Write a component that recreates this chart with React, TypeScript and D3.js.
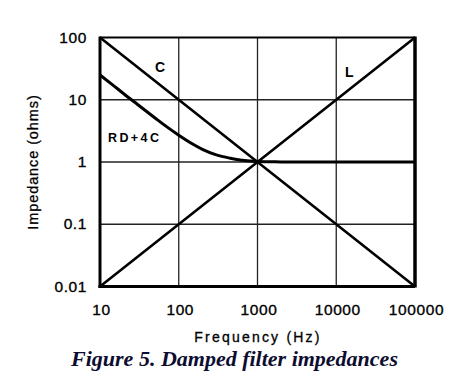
import React from "react";
import * as d3 from "d3";

const xTicks = [10, 100, 1000, 10000, 100000];
const xTickLabels = ["10", "100", "1000", "10000", "100000"];
const yTicks = [0.01, 0.1, 1, 10, 100];
const yTickLabels = ["0.01", "0.1", "1", "10", "100"];

const cFreq = [10, 100, 1000, 10000, 100000];
const cImp = [100, 10, 1, 0.1, 0.01];

const lFreq = [10, 100, 1000, 10000, 100000];
const lImp = [0.01, 0.1, 1, 10, 100];

const rdFreq = [10, 15, 20, 30, 50, 70, 100, 150, 200, 300, 450, 600, 800, 1000, 1500, 2000, 100000];
const rdImp = [25, 16.7, 12.5, 8.4, 5.1, 3.7, 2.7, 1.95, 1.6, 1.3, 1.15, 1.08, 1.04, 1.02, 1.01, 1.0, 1.0];

export default function App() {
  const W = 463, H = 380;
  const x0 = 100, x1 = 415, y0 = 37.5, y1 = 286.5;
  const x = d3.scaleLog().domain([10, 100000]).range([x0, x1]);
  const y = d3.scaleLog().domain([0.01, 100]).range([y1, y0]);

  const line = d3.line<[number, number]>()
    .x(d => x(d[0]))
    .y(d => y(d[1]))
    .curve(d3.curveMonotoneX);

  const cPath = line(cFreq.map((f, i) => [f, cImp[i]]))!;
  const lPath = line(lFreq.map((f, i) => [f, lImp[i]]))!;
  const rdPath = line(rdFreq.map((f, i) => [f, rdImp[i]]))!;

  const sans = "Arial, 'Liberation Sans', Helvetica, sans-serif";

  return (
    <svg width={W} height={H} style={{ position: "absolute", left: 0, top: 0 }}>
      <rect width={W} height={H} fill="#fff" />
      {/* grid */}
      {xTicks.slice(1, -1).map(t => (
        <line key={"gx" + t} x1={x(t)} x2={x(t)} y1={y0} y2={y1} stroke="#222" strokeWidth={1.3} />
      ))}
      {yTicks.slice(1, -1).map(t => (
        <line key={"gy" + t} x1={x0} x2={x1} y1={y(t)} y2={y(t)} stroke="#222" strokeWidth={1.3} />
      ))}
      {/* curves */}
      <g fill="none" stroke="#000" strokeWidth={2.6} strokeLinejoin="round">
        <path d={cPath} />
        <path d={lPath} />
        <path d={rdPath} strokeWidth={3} />
      </g>
      {/* frame */}
      <line x1={x0} x2={x1} y1={y0} y2={y0} stroke="#000" strokeWidth={2.2} />
      <line x1={x1} x2={x1} y1={y0 - 1} y2={y1 + 1} stroke="#000" strokeWidth={3.5} />
      <line x1={x0} x2={x0} y1={y0 - 1} y2={y1 + 1.5} stroke="#000" strokeWidth={3} />
      <line x1={x0 - 1.5} x2={x1} y1={y1} y2={y1} stroke="#000" strokeWidth={3} />
      {/* tick labels */}
      <g stroke="#000" strokeWidth={0.35}>
        {xTicks.map((t, i) => (
          <text key={"xt" + t} x={x(t) + 1.5} y={315} textAnchor="middle" fontFamily={sans} fontSize={15.5} letterSpacing={0.6}>
            {xTickLabels[i]}
          </text>
        ))}
        {yTicks.map((t, i) => (
          <text key={"yt" + t} x={87} y={y(t) + 5} textAnchor="end" fontFamily={sans} fontSize={15.5} letterSpacing={0.6}>
            {yTickLabels[i]}
          </text>
        ))}
      </g>
      {/* series labels */}
      <text x={155} y={72} fontFamily={sans} fontSize={14} fontWeight="bold">C</text>
      <text x={345} y={77} fontFamily={sans} fontSize={14} fontWeight="bold">L</text>
      <text x={108} y={142} fontFamily={sans} fontSize={12.5} fontWeight="bold" letterSpacing={2.4}>RD+4C</text>
      {/* axis titles */}
      <g stroke="#000" strokeWidth={0.3}>
        <text x={258} y={341.5} textAnchor="middle" fontFamily={sans} fontSize={14} letterSpacing={2.2}>Frequency (Hz)</text>
        <text transform="translate(38,162) rotate(-90)" textAnchor="middle" fontFamily={sans} fontSize={14.5} letterSpacing={0.9}>Impedance (ohms)</text>
      </g>
      {/* caption */}
      <text x={234.5} y={365.5} textAnchor="middle" fontFamily="'Liberation Serif', 'Times New Roman', serif" fontSize={22} fontWeight="bold" fontStyle="italic" fill="#0d0d30">
        Figure 5. Damped filter impedances
      </text>
    </svg>
  );
}
